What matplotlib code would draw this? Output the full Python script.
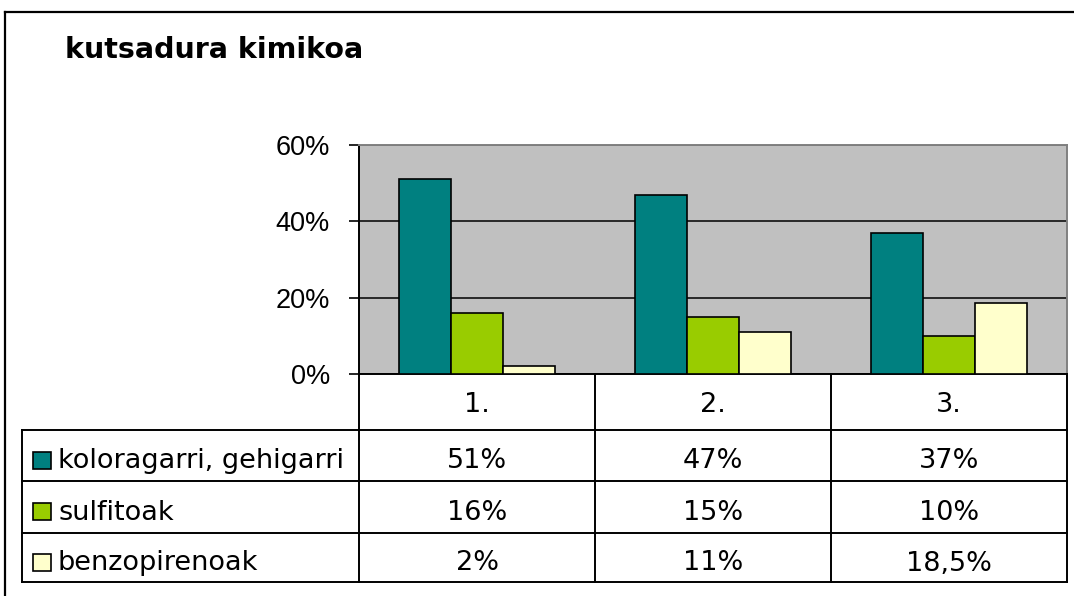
import matplotlib
matplotlib.use('Agg')
import matplotlib.pyplot as plt
import numpy as np
from matplotlib.patches import Rectangle

# data
categories = ['1.', '2.', '3.']
series_names = ['koloragarri, gehigarri', 'sulfitoak', 'benzopirenoak']
koloragarri = [51, 47, 37]
sulfitoak = [16, 15, 10]
benzopirenoak = [2, 11, 18.5]
colors = ['#008080', '#99CC00', '#FFFFCC']
title = 'kutsadura kimikoa'


def pct_label(v):
    s = ('%g' % v).replace('.', ',')
    return s + '%'


W, H = 1074, 596
fig = plt.figure(figsize=(W / 100, H / 100), dpi=100)

# overlay in pixel coords for border, title and data table
ov = fig.add_axes([0, 0, 1, 1], zorder=0)
ov.set_xlim(0, W)
ov.set_ylim(H, 0)
ov.axis('off')

# plot area (pixels)
px_l, px_r, px_t, px_b = 359, 1067, 145, 374
ax = fig.add_axes([px_l / W, 1 - px_b / H, (px_r - px_l) / W, (px_b - px_t) / H], zorder=1)
ax.set_facecolor('#C0C0C0')

series = [koloragarri, sulfitoak, benzopirenoak]
x = np.arange(len(categories))
bw = 0.22
for i, vals in enumerate(series):
    ax.bar(x + (i - 1) * bw, vals, width=bw, color=colors[i], edgecolor='black', linewidth=1.2, zorder=3)

ax.set_xlim(-0.5, len(categories) - 0.5)
ax.set_ylim(0, 60)
ax.set_yticks([0, 20, 40, 60])
ax.set_yticklabels(['0%', '20%', '40%', '60%'], fontsize=19.5, family='Liberation Sans')
ax.set_xticks([])
ax.yaxis.grid(True, color='black', linewidth=1.1, zorder=1)
ax.set_axisbelow(True)
ax.tick_params(axis='y', direction='out', length=7, width=1.2, pad=14)
ax.spines['left'].set_color('black')
ax.spines['left'].set_linewidth(1.4)
ax.spines['bottom'].set_linewidth(1.4)
ax.spines['top'].set_color('#808080')
ax.spines['right'].set_color('#808080')
ax.spines['top'].set_linewidth(1.4)
ax.spines['right'].set_linewidth(1.4)

# outer chart border
ov.plot([5, W], [12, 12], color='black', lw=1.6)
ov.plot([5, 5], [12, H], color='black', lw=1.6)

ov.text(65, 58, title, fontsize=20.5, fontweight='bold', family='DejaVu Sans', va='baseline')

# data table
col_x = [px_l, 595, 831, px_r]
tbl_l = 22
row_y = [px_b, 430, 481, 533, 582]
lw = 1.4
for cx in col_x:
    ov.plot([cx, cx], [row_y[0], row_y[-1]], color='black', lw=lw)
ov.plot([tbl_l, tbl_l], [row_y[1], row_y[-1]], color='black', lw=lw)
for ry in row_y[1:]:
    ov.plot([tbl_l, px_r], [ry, ry], color='black', lw=lw)

tfont = dict(fontsize=19.5, family='DejaVu Sans', color='black')
for j, c in enumerate(categories):
    ov.text((col_x[j] + col_x[j + 1]) / 2, (row_y[0] + row_y[1]) / 2 + 3, c,
            ha='center', va='center', **tfont)
for i, vals in enumerate(series):
    yc = (row_y[i + 1] + row_y[i + 2]) / 2 + 6
    ov.add_patch(Rectangle((33, yc - 10), 18, 17, facecolor=colors[i], edgecolor='black', lw=1.2))
    ov.text(58, yc, series_names[i], ha='left', va='center', **tfont)
    for j, v in enumerate(vals):
        ov.text((col_x[j] + col_x[j + 1]) / 2, yc, pct_label(v), ha='center', va='center', **tfont)

fig.savefig('out.png', dpi=100)
